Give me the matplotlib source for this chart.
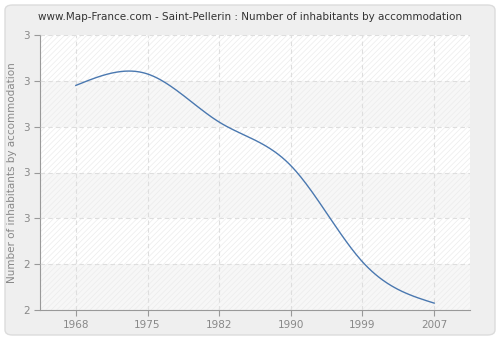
import numpy as np
import matplotlib
matplotlib.use("Agg")
import matplotlib.pyplot as plt
from matplotlib.patches import FancyBboxPatch, Rectangle

# data
years = ["1968", "1975", "1982", "1990", "1999", "2007"]
inhabitants = [3.18, 3.23, 3.02, 2.83, 2.41, 2.23]
y_ticks = [2.2, 2.4, 2.6, 2.8, 3.0, 3.2, 3.4]


def smooth_curve(x, y, n=300):
    """Natural cubic spline through the points (drawing only)."""
    x = np.asarray(x, float)
    y = np.asarray(y, float)
    k = len(x)
    h = np.diff(x)
    A = np.zeros((k, k))
    b = np.zeros(k)
    A[0, 0] = A[-1, -1] = 1
    for i in range(1, k - 1):
        A[i, i - 1] = h[i - 1]
        A[i, i] = 2 * (h[i - 1] + h[i])
        A[i, i + 1] = h[i]
        b[i] = 6 * ((y[i + 1] - y[i]) / h[i] - (y[i] - y[i - 1]) / h[i - 1])
    m = np.linalg.solve(A, b)
    xs = np.linspace(x[0], x[-1], n)
    seg = np.clip(np.searchsorted(x, xs) - 1, 0, k - 2)
    t0 = x[seg + 1] - xs
    t1 = xs - x[seg]
    hs = h[seg]
    ys = (m[seg] * t0**3 + m[seg + 1] * t1**3) / (6 * hs) \
        + (y[seg] / hs - m[seg] * hs / 6) * t0 \
        + (y[seg + 1] / hs - m[seg + 1] * hs / 6) * t1
    return xs, ys


plt.rcParams['hatch.linewidth'] = 0.5
plt.rcParams['hatch.color'] = '#e6e6e6'

fig = plt.figure(figsize=(5, 3.4), dpi=100, facecolor='white')
fig.patches.append(FancyBboxPatch((5 / 500, 5 / 340), 490 / 500, 330 / 340,
                                  boxstyle="round,pad=0,rounding_size=0.015",
                                  transform=fig.transFigure, facecolor='#efefef',
                                  edgecolor='#dcdcdc', linewidth=1, zorder=-10))

ax = fig.add_axes([40 / 500, 30 / 340, 430 / 500, 275 / 340])
ax.set_facecolor('white')

# alternating bands, hatched
for i in range(len(y_ticks) - 1):
    fc = 'white' if (len(y_ticks) - 2 - i) % 2 == 0 else '#f7f7f7'
    ax.add_patch(Rectangle((-0.5, y_ticks[i]), 6, y_ticks[i + 1] - y_ticks[i],
                           facecolor=fc, edgecolor='#ececec', hatch='//////',
                           linewidth=0, zorder=0))

xi = np.arange(len(years))
xs, ys = smooth_curve(xi, inhabitants)
ax.plot(xs, ys, color='#4a78b0', linewidth=1, zorder=3)

ax.set_xlim(-0.5, len(years) - 0.5)
ax.set_ylim(y_ticks[0], y_ticks[-1])
ax.set_xticks(xi)
ax.set_xticklabels(years)
ax.set_yticks(y_ticks)
ax.set_yticklabels([f"{v:.0f}" for v in y_ticks])

ax.grid(True, color='#dedede', linestyle=(0, (4, 3)), linewidth=0.8, zorder=1)
ax.set_axisbelow(False)

for side in ['top', 'right']:
    ax.spines[side].set_visible(False)
for side in ['left', 'bottom']:
    ax.spines[side].set_color('#999999')
ax.tick_params(colors='#999999', labelcolor='#888888', labelsize=7.5, length=4)

ax.set_ylabel("Number of inhabitants by accommodation", color='#888888', fontsize=7.5)
fig.text(0.5, 0.935, "www.Map-France.com - Saint-Pellerin : Number of inhabitants by accommodation",
         ha='center', va='bottom', fontsize=7.5, color='#333333')

fig.savefig("out.png", dpi=100, facecolor=fig.get_facecolor())
